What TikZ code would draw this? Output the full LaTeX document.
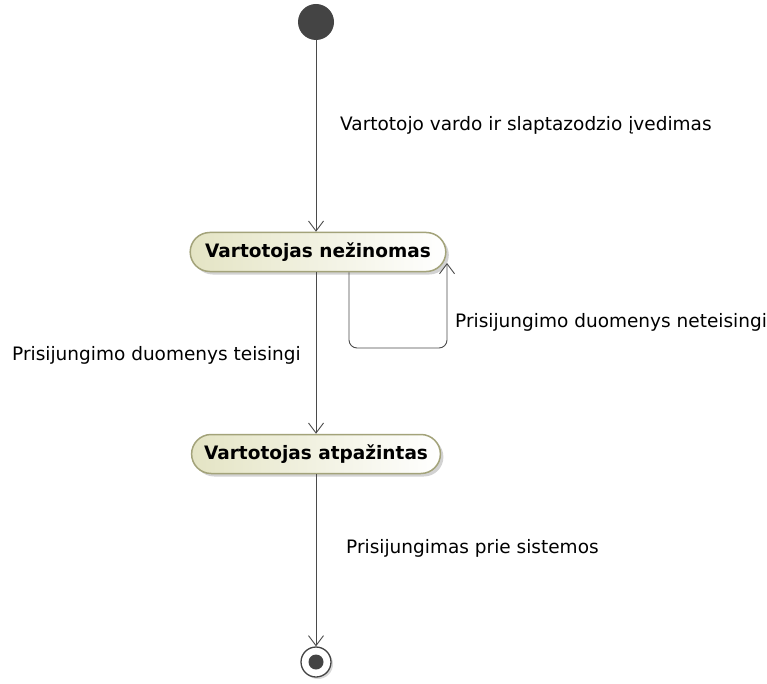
\documentclass[tikz,border=0pt]{standalone}
\usepackage{fontspec}
\setmainfont{DejaVu Sans}
\usetikzlibrary{arrows.meta,shadows,shapes.misc}
\definecolor{stateborder}{HTML}{A3A37A}
\definecolor{statefill}{HTML}{E4E4C4}
\definecolor{dotfill}{HTML}{444444}
\definecolor{linecol}{HTML}{4A4A4A}
\begin{document}
\begin{tikzpicture}[x=1pt,y=-1pt,
  statebox/.style={rounded rectangle, draw=stateborder, line width=1.5pt,
    left color=statefill, right color=white, font=\bfseries\fontsize{18.5}{22}\selectfont,
    minimum height=39pt, inner xsep=11pt,
    drop shadow={shadow xshift=3pt, shadow yshift=-3pt, opacity=0.35}},
  flow/.style={draw=linecol, line width=0.9pt, -{Straight Barb[length=10pt,width=15pt,line width=0.9pt]}},
  lbl/.style={font=\fontsize{18.5}{22}\selectfont, anchor=west, inner sep=0pt}]
\useasboundingbox (0,0) rectangle (767,684);
\fill[white] (0,0) rectangle (767,684);

% initial and final pseudo states
\node[circle, fill=dotfill, minimum size=36pt, inner sep=0pt] (init) at (316,22) {};
\node[circle, draw=dotfill, line width=1.3pt, fill=white, minimum size=30pt, inner sep=0pt,
      drop shadow={shadow xshift=2pt, shadow yshift=-2pt, opacity=0.3}] (final) at (316,662) {};
\node[circle, fill=dotfill, minimum size=15pt, inner sep=0pt] (finaldot) at (316,662) {};

% states
\node[statebox, inner xsep=12.5pt] (unknown) at (318,252) {Vartotojas ne\v{z}inomas};
\node[statebox, inner xsep=10pt] (known) at (316,454) {Vartotojas atpa\v{z}intas};

% transitions
\draw[flow] (init) -- (unknown.north -| init);
\coordinate (loopstart) at (349,271);
\coordinate (loopend) at (447,263);
\draw[flow, rounded corners=8pt] (unknown.south -| loopstart) -- (349,348) -- (447,348) -- (loopend);
\draw[flow] (unknown.south -| init) -- (known.north -| init);
\draw[flow] (known.south -| init) -- (final);

% labels
\node[lbl] (l1) at (340,125) {Vartotojo vardo ir slaptazodzio \k{i}vedimas};
\node[lbl] (l2) at (455,322) {Prisijungimo duomenys neteisingi};
\node[lbl] (l3) at (12,355) {Prisijungimo duomenys teisingi};
\node[lbl] (l4) at (346,548) {Prisijungimas prie sistemos};
\end{tikzpicture}
\end{document}
